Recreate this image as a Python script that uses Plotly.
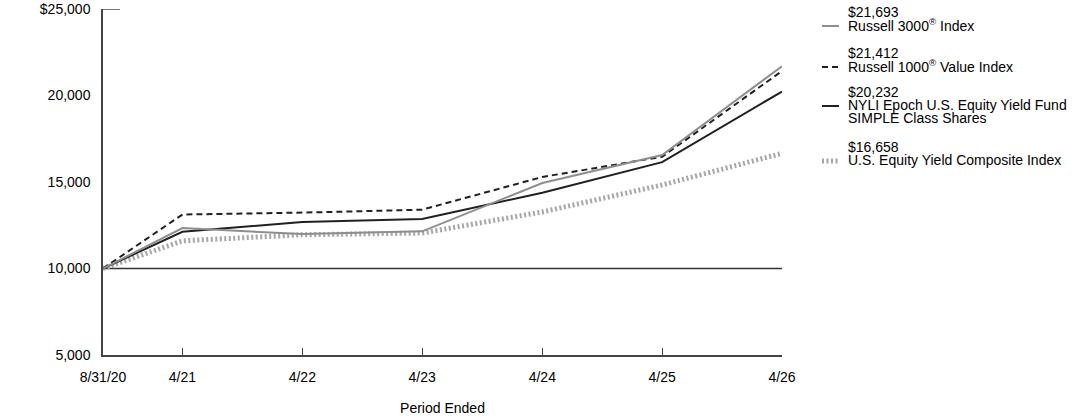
import plotly.graph_objects as go

dates = ["2020-08-31", "2021-04-30", "2022-04-30", "2023-04-30", "2024-04-30", "2025-04-30", "2026-04-30"]
date_labels = ["8/31/20", "4/21", "4/22", "4/23", "4/24", "4/25", "4/26"]

russell3000 = [10000, 12340, 11990, 12150, 14940, 16560, 21693]
russell1000v = [10000, 13120, 13230, 13400, 15290, 16460, 21412]
fund = [10000, 12120, 12690, 12860, 14380, 16150, 20232]
composite = [10000, 11600, 11950, 12050, 13270, 14830, 16658]

y_ticks = [5000, 10000, 15000, 20000, 25000]
y_labels = ["5,000", "10,000", "15,000", "20,000", "$25,000"]

legend_values = ["$21,693", "$21,412", "$20,232", "$16,658"]
legend_names = [["Russell 3000<sup>®</sup> Index"], ["Russell 1000<sup>®</sup> Value Index"],
                ["NYLI Epoch U.S. Equity Yield Fund", "SIMPLE Class Shares"],
                ["U.S. Equity Yield Composite Index"]]

FONT = "Liberation Sans, Arial, sans-serif"
FS = 14
BLACK = "#231f20"
GRAY = "#8e8e8e"
LGRAY = "#a6a6a6"

styles = [
    dict(color=GRAY, width=2, dash="solid"),
    dict(color=BLACK, width=2, dash="6px,4px"),
    dict(color=BLACK, width=2, dash="solid"),
    dict(color=LGRAY, width=5, dash="2px,2.5px"),
]
series = [russell3000, russell1000v, fund, composite]

fig = go.Figure()
for idx in [3, 1, 2, 0]:
    fig.add_trace(go.Scatter(x=dates, y=series[idx], mode="lines",
                             line=styles[idx], showlegend=False, hoverinfo="skip"))

W, H = 1092, 417
ml, mr, mt, mb = 103, 310, 9, 62
pw = W - ml - mr
ph = H - mt - mb

fig.update_layout(
    width=W, height=H,
    margin=dict(l=ml, r=mr, t=mt, b=mb),
    paper_bgcolor="white", plot_bgcolor="white",
    font=dict(family=FONT, size=FS, color="#000"),
    showlegend=False,
)
fig.update_xaxes(
    type="date", range=["2020-08-31", "2026-04-30"],
    tickvals=dates, ticktext=date_labels,
    ticks="inside", ticklen=7, tickwidth=1, tickcolor="#444",
    showline=True, linecolor="#444", linewidth=1.5,
    showgrid=False, zeroline=False, automargin=False,
    ticklabelstandoff=8,
    title=dict(text="Period Ended", standoff=20, font=dict(size=FS)),
)
fig.update_yaxes(
    range=[5000, 25000], tickvals=y_ticks, ticktext=y_labels,
    ticks="", showline=True, linecolor="#444", linewidth=1.5,
    showgrid=False, zeroline=False, automargin=False, ticklabelstandoff=8,
)

# reference line at 10,000
fig.add_shape(type="line", xref="paper", yref="y", x0=0, x1=1, y0=10000, y1=10000,
              line=dict(color="#333", width=1.5), layer="below")
# top tick
fig.add_shape(type="line", xref="paper", yref="y", x0=0, x1=17 / pw, y0=25000, y1=25000,
              line=dict(color="#444", width=1.5))


def py(px):
    return 1 - (px - mt) / ph


def px_x(px):
    return (px - ml) / pw


# manual legend
first_line = [12, 53, 92, 147]
LS = 13
for i in range(4):
    y0 = first_line[i]
    sym_y = y0 + LS + 1
    fig.add_shape(type="line", xref="paper", yref="paper",
                  x0=px_x(822), x1=px_x(839), y0=py(sym_y), y1=py(sym_y),
                  line=styles[i])
    lines = [legend_values[i]] + legend_names[i]
    for j, t in enumerate(lines):
        fig.add_annotation(xref="paper", yref="paper", x=px_x(847), y=py(y0 + j * LS),
                           xanchor="left", yanchor="middle", align="left", showarrow=False,
                           borderpad=0,
                           text=t, font=dict(size=FS, family=FONT, color="#000"))

fig.write_html("out.html")
